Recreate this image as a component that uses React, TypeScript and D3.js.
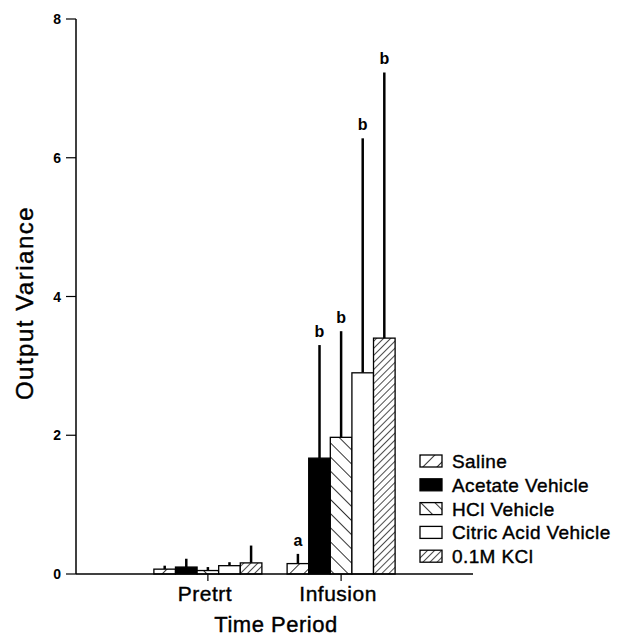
import React from 'react';
import * as d3 from 'd3';

const periods = ['Pretrt', 'Infusion'];
const groups = ['Saline', 'Acetate Vehicle', 'HCl Vehicle', 'Citric Acid Vehicle', '0.1M KCl'];
// means per period, in group order
const pretrtMeans = [0.07, 0.1, 0.05, 0.12, 0.16];
const infusionMeans = [0.15, 1.67, 1.97, 2.9, 3.4];
// upper end of error bar
const pretrtErrTops = [0.12, 0.22, 0.1, 0.17, 0.41];
const infusionErrTops = [0.29, 3.3, 3.5, 6.28, 7.23];
const infusionLetters = ['a', 'b', 'b', 'b', 'b'];
const yTicks = [0, 2, 4, 6, 8];

const fills = ['url(#hatchSparse)', '#000', 'url(#hatchBack)', '#fff', 'url(#hatchDense)'];

export default function App() {
    const width = 620;
    const height = 639;
    const axisX = 76;
    const axisEnd = 473;
    const baseY = 574;

    const y = d3.scaleLinear().domain([0, 8]).range([baseY, 19]);
    const x0 = d3.scalePoint<string>().domain(periods).range([axisX, axisEnd]).padding(0.99);
    const x1 = d3.scaleBand<string>().domain(groups).range([-54, 54]);

    //combine data into rows for drawing
    const rows: any[] = [];
    periods.forEach((p, pi) => {
        groups.forEach((g, gi) => {
            rows.push({
                period: p,
                group: g,
                gi: gi,
                value: pi === 0 ? pretrtMeans[gi] : infusionMeans[gi],
                errTop: pi === 0 ? pretrtErrTops[gi] : infusionErrTops[gi],
                letter: pi === 0 ? '' : infusionLetters[gi],
            });
        });
    });

    const bw = x1.bandwidth();
    const font = '"Liberation Sans", Arial, sans-serif';
    const heavy = { stroke: '#000', strokeWidth: 0.4 };

    return (
        <svg width={width} height={height} style={{ position: 'absolute', left: 0, top: 0 }}>
            <defs>
                <pattern id="hatchSparse" patternUnits="userSpaceOnUse" width="10" height="10" patternTransform="rotate(45)">
                    <rect width="10" height="10" fill="#fff" />
                    <line x1="0" y1="0" x2="0" y2="10" stroke="#000" strokeWidth="1.6" />
                </pattern>
                <pattern id="hatchBack" patternUnits="userSpaceOnUse" width="10" height="10" patternTransform="rotate(-45)">
                    <rect width="10" height="10" fill="#fff" />
                    <line x1="0" y1="0" x2="0" y2="10" stroke="#000" strokeWidth="1.6" />
                </pattern>
                <pattern id="hatchDense" patternUnits="userSpaceOnUse" width="5" height="5" patternTransform="rotate(45)">
                    <rect width="5" height="5" fill="#fff" />
                    <line x1="0" y1="0" x2="0" y2="5" stroke="#000" strokeWidth="1.4" />
                </pattern>
            </defs>
            <rect width={width} height={height} fill="#fff" />

            {/* y axis */}
            <line x1={axisX} x2={axisX} y1={baseY} y2={y(8)} stroke="#000" strokeWidth={1.5} />
            {yTicks.map(t => (
                <g key={t}>
                    <line x1={axisX - 10} x2={axisX} y1={y(t)} y2={y(t)} stroke="#000" strokeWidth={1.2} />
                    <text x={axisX - 15} y={y(t) + 5} textAnchor="end" fontFamily={font} fontWeight="bold" fontSize={14}>{t}</text>
                </g>
            ))}

            {/* bars */}
            {rows.map((r, i) => {
                const cx = (x0(r.period) as number) + (x1(r.group) as number);
                return (
                    <g key={i}>
                        <line x1={cx + bw / 2} x2={cx + bw / 2} y1={y(r.value)} y2={y(r.errTop)} stroke="#000" strokeWidth={2.5} />
                        <rect x={cx} y={y(r.value)} width={bw} height={baseY - y(r.value)} fill={fills[r.gi]} stroke="#000" strokeWidth={1.3} />
                        {r.letter ? (
                            <text x={cx + bw / 2} y={y(r.errTop) - 8} textAnchor="middle" fontFamily={font} fontWeight="bold" fontSize={16}>{r.letter}</text>
                        ) : null}
                    </g>
                );
            })}

            {/* x axis */}
            <line x1={axisX} x2={axisEnd} y1={baseY} y2={baseY} stroke="#000" strokeWidth={1.5} />
            {periods.map(p => (
                <g key={p}>
                    <line x1={x0(p)} x2={x0(p)} y1={baseY} y2={baseY + 7} stroke="#000" strokeWidth={1.2} />
                    <text x={(x0(p) as number) - 3} y={601} textAnchor="middle" fontFamily={font} fontSize={21} letterSpacing={0.5} {...heavy}>{p}</text>
                </g>
            ))}

            {/* axis titles */}
            <text x={276} y={632} textAnchor="middle" fontFamily={font} fontSize={22} letterSpacing={0.5} {...heavy}>Time Period</text>
            <text transform="translate(33, 303) rotate(-90)" textAnchor="middle" fontFamily={font} fontSize={24} letterSpacing={1.5} {...heavy}>Output Variance</text>

            {/* legend */}
            {groups.map((g, i) => (
                <g key={g} transform={`translate(420, ${455 + i * 23.8})`}>
                    <rect x={0} y={0} width={22} height={12} fill={fills[i]} stroke="#000" strokeWidth={1.3} />
                    <text x={32} y={13} fontFamily={font} fontSize={19} letterSpacing={0.4} {...heavy}>{g}</text>
                </g>
            ))}
        </svg>
    );
}
